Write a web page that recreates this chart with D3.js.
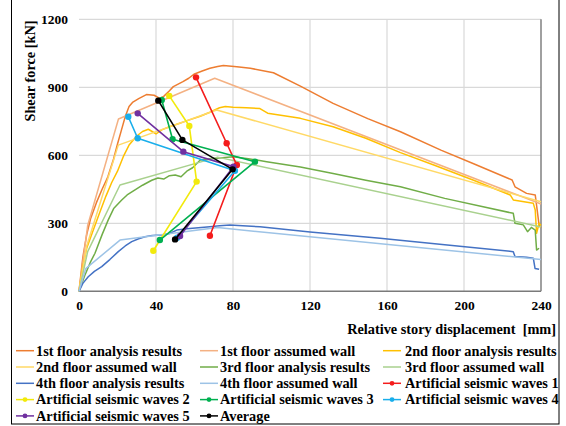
<!DOCTYPE html>
<html lang="en">
<head>
<meta charset="UTF-8">
<title>Shear force - story displacement</title>
<script src="https://d3js.org/d3.v7.min.js"></script>
<style>
body { margin: 0; background: #fff; }
text { font-family: "Liberation Serif", "Times New Roman", serif; font-weight: bold; fill: #000; }
</style>
</head>
<body>
<div id="chart"></div>
<script>
// values: [displacement mm, shear kN]
const f1Analysis = [[0,0],[2,150],[4,250],[6,320],[9,390],[12,450],[15,505],[18,585],[20,650],[22,710],[24,770],[26,815],[28,835],[31,850],[35,868],[39,865],[42,851],[44,860],[47,885],[49,903],[54,925],[57,940],[60,959],[64,972],[68,984],[72,992],[75,996],[82,991],[89,984],[101,964],[115,905],[132,829],[150,762],[167,704],[188,623],[205,563],[225,491],[226.5,461],[232.5,432],[237,425],[238,359],[239,292],[240,280]];
const f1Wall = [[0,0],[4.5,290],[20.5,760],[70.5,940],[240,385]];
const f2Analysis = [[0,0],[2,110],[4,190],[7,260],[10,330],[14,420],[17,480],[20,530],[23,594],[26,645],[30,685],[33,705],[36,715],[38,705],[40,694],[43,712],[47,726],[52,740],[57,755],[63,772],[68,790],[73,810],[76,815],[80,812],[87,810],[94,806],[98,786],[115,763],[132,726],[149,675],[167,612],[185,555],[205,490],[224,425],[225.6,403],[236,388],[237,359],[237.7,256],[239,300],[240,290]];
const f2Wall = [[0,0],[4,200],[20.4,645],[71.5,800],[240,395]];
const f3Analysis = [[0,0],[3,70],[6,130],[8.3,168],[12,250],[15.2,315],[18,365],[22.2,403],[25,425],[29.1,447],[33,468],[37.8,490],[41,500],[44,495],[47,510],[50,513],[53,505],[56,530],[59,545],[63,579],[68,585],[73,588],[80,594],[88,585],[97.5,572],[115,548],[132,520],[149,490],[167,461],[190,410],[225.6,344],[226.5,300],[230.8,293],[233,263],[235,282],[237,270],[237.7,182],[239,190]];
const f3Wall = [[0,0],[4.5,175],[21.3,469],[72,592],[240,284]];
const f4Analysis = [[0,0],[2,35],[4.8,64],[8,88],[11.8,109],[16,140],[20.4,175],[24,200],[27.4,219],[31,232],[34.3,241],[38,246],[43,248],[47,255],[50.8,270],[56,276],[62,280],[68,285],[73,289],[78.4,292],[85,289],[94,285],[120,262],[156.4,234],[190,205],[225.6,175],[226.5,153],[232.5,150],[236,146],[236.9,101],[239,97]];
const f4Wall = [[0,0],[3.5,100],[21.3,226],[72,281],[240,140]];

const wave1 = [[60.8,944],[76.7,653],[82,557],[68,245]];
const wave2 = [[46.9,862],[57.3,729],[61.1,484],[38.6,179]];
const wave3 = [[43,844],[48.6,671],[91.4,572],[42,226]];
const wave4 = [[25.6,770],[30.5,675],[81,532],[51,236]];
const wave5 = [[30.5,785],[54.2,616],[80.2,550],[52.5,244]];
const average = [[41.2,841],[53.7,668],[79.8,538],[49.9,229]];

const xTicks = [0, 40, 80, 120, 160, 200, 240];
const yTicks = [0, 300, 600, 900, 1200];

const seriesNames = [
  '1st floor analysis results', '1st floor assumed wall', '2nd floor analysis results',
  '2nd floor assumed wall', '3rd floor analysis results', '3rd floor assumed wall',
  '4th floor analysis results', '4th floor assumed wall', 'Artificial seismic waves 1',
  'Artificial seismic waves 2', 'Artificial seismic waves 3', 'Artificial seismic waves 4',
  'Artificial seismic waves 5', 'Average'
];
const seriesData = [f1Analysis, f1Wall, f2Analysis, f2Wall, f3Analysis, f3Wall, f4Analysis, f4Wall,
  wave1, wave2, wave3, wave4, wave5, average];
const seriesColors = ['#ed7d31', '#f4b183', '#ffc000', '#ffd966', '#70ad47', '#a9d18e', '#4472c4', '#9dc3e6',
  '#f41c1c', '#f2ea0c', '#00b050', '#19aeeb', '#7030a0', '#000000'];

const width = 566, height = 426;

const svg = d3.select('#chart').append('svg')
    .attr('width', width)
    .attr('height', height);

const x = d3.scaleLinear().domain([0, 240]).range([79, 541]);
const y = d3.scaleLinear().domain([0, 1200]).range([291.3, 19.3]);

// outer frame (top edge is cut off in the picture)
svg.append('rect')
    .attr('x', 11.5).attr('y', -2)
    .attr('width', 547.5).attr('height', 426)
    .attr('fill', 'none').attr('stroke', '#000').attr('stroke-width', 1);

// grid
svg.append('g').selectAll('line')
    .data(yTicks.filter(d => d > 0))
    .join('line')
    .attr('x1', x(0)).attr('x2', x(240))
    .attr('y1', d => y(d)).attr('y2', d => y(d))
    .attr('stroke', '#d9d9d9').attr('stroke-width', 1.2);

svg.append('g').selectAll('line')
    .data(xTicks.filter(d => d > 0 && d < 240))
    .join('line')
    .attr('x1', d => x(d)).attr('x2', d => x(d))
    .attr('y1', y(0)).attr('y2', y(1200))
    .attr('stroke', '#d9d9d9').attr('stroke-width', 1.2);

// right border + bottom axis line
svg.append('line')
    .attr('x1', x(240)).attr('x2', x(240))
    .attr('y1', y(0)).attr('y2', y(1200))
    .attr('stroke', '#808080').attr('stroke-width', 1.5);
svg.append('line')
    .attr('x1', x(0)).attr('x2', x(240))
    .attr('y1', y(0)).attr('y2', y(0))
    .attr('stroke', '#7a7a7a').attr('stroke-width', 1.5);

// axes (labels only)
const xAxis = svg.append('g')
    .attr('transform', `translate(0,${y(0)})`)
    .call(d3.axisBottom(x).tickValues(xTicks).tickFormat(d3.format('d')).tickSize(0).tickPadding(9));
const yAxis = svg.append('g')
    .attr('transform', `translate(${x(0)},0)`)
    .call(d3.axisLeft(y).tickValues(yTicks).tickFormat(d3.format('d')).tickSize(0).tickPadding(11));
[xAxis, yAxis].forEach(g => {
  g.select('.domain').remove();
  g.attr('font-family', null).attr('font-size', null);
  g.selectAll('text')
    .style('font-family', '"Liberation Serif", serif')
    .style('font-weight', 'bold')
    .style('font-size', '13.5px')
    .attr('fill', '#000');
});

svg.append('text')
    .attr('x', 556).attr('y', 334)
    .attr('text-anchor', 'end')
    .attr('font-size', 14.3)
    .attr('xml:space', 'preserve')
    .text('Relative story displacement  [mm]');

svg.append('text')
    .attr('transform', 'translate(35,71) rotate(-90)')
    .attr('text-anchor', 'middle')
    .attr('font-size', 14.3)
    .text('Shear force [kN]');

// curves
const line = d3.line().x(d => x(d[0])).y(d => y(d[1]));

seriesData.forEach((data, i) => {
  svg.append('path')
      .datum(data)
      .attr('d', line)
      .attr('fill', 'none')
      .attr('stroke', seriesColors[i])
      .attr('stroke-width', i < 8 ? 1.5 : 1.6)
      .attr('stroke-linejoin', 'round');
  if (i >= 8) {
    svg.append('g').selectAll('circle')
      .data(data)
      .join('circle')
      .attr('cx', d => x(d[0]))
      .attr('cy', d => y(d[1]))
      .attr('r', 3.2)
      .attr('fill', seriesColors[i]);
  }
});

// legend, 3 columns
const colLine = [16, 200, 383];
const colText = [36, 220, 405];
const legend = svg.append('g');
seriesNames.forEach((name, i) => {
  const col = i % 3, row = Math.floor(i / 3);
  const cy = 350.7 + row * 16.3;
  legend.append('line')
      .attr('x1', colLine[col]).attr('x2', colLine[col] + 18)
      .attr('y1', cy).attr('y2', cy)
      .attr('stroke', seriesColors[i]).attr('stroke-width', 1.5);
  if (i >= 8) {
    legend.append('circle')
        .attr('cx', colLine[col] + 9).attr('cy', cy).attr('r', 2.4)
        .attr('fill', seriesColors[i]);
  }
  legend.append('text')
      .attr('x', colText[col]).attr('y', cy + 4.8)
      .attr('font-size', 14.3)
      .text(name);
});
</script>
</body>
</html>
